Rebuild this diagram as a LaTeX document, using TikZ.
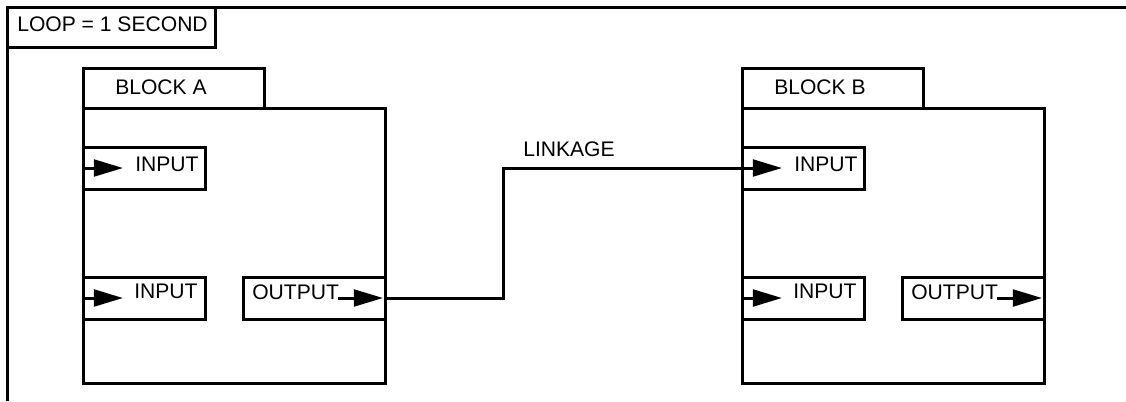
\documentclass[tikz,border=0pt]{standalone}
\usepackage{fontspec}
\setmainfont{Liberation Sans}
\usetikzlibrary{arrows.meta,calc}

\def\px{0.25mm}
\tikzset{
  frame/.style={draw, rectangle, line width=3*\px, inner sep=0pt, outer sep=0pt, anchor=north west},
  lbl/.style={inner sep=0pt, anchor=west, font=\fontsize{15}{18}\selectfont},
  flow/.style={line width=3*\px, -{Triangle[length=7.3mm,width=4.2mm]}},
}

\begin{document}
\begin{tikzpicture}[x=\px, y=-\px]
  \useasboundingbox (0,0) rectangle (1126,401);

  % -- loop frame, open to the right and bottom --
  \coordinate (loopR) at (1126,7);
  \coordinate (loopB) at (7,401);
  \draw[line width=3*\px] (loopB) |- (loopR);
  \node[frame, minimum width=208*\px, minimum height=40*\px] (loop) at (7,7) {};
  \node[lbl] (looptxt) at (17,24) {LOOP = 1 SECOND};

  % -- the two blocks, same layout shifted --
  \foreach \name/\dx in {A/0,B/659}{
    \begin{scope}[shift={(\dx,0)}]
      \node[frame, minimum width=302*\px, minimum height=275*\px] (main\name) at (83,108) {};
      \node[frame, minimum width=181*\px, minimum height=40*\px] (tab\name) at (83,68) {};
      \node[lbl] (tabtxt\name) at (115,87) {BLOCK \name};

      \node[frame, minimum width=122*\px, minimum height=42*\px] (inI\name) at (83,147) {};
      \node[lbl] (inItxt\name) at (135,164) {INPUT};

      \node[frame, minimum width=122*\px, minimum height=42*\px] (inII\name) at (83,277) {};
      \node[lbl] (inIItxt\name) at (134,291) {INPUT};
      \draw[flow] (inII\name.west) -- ++(40,0);

      \node[frame, minimum width=142*\px, minimum height=42*\px] (out\name) at (243,277) {};
      \node[lbl] (outtxt\name) at (252,292) {OUTPUT};
      \draw[flow] ($(out\name.west)+(95,0)$) -- ($(out\name.east)+(-2,0)$);
    \end{scope}
  }

  % -- input A fed from outside, input B fed by the linkage --
  \draw[flow] (inIA.west) -- ++(40,0);
  \draw[flow] (outA.east) -- ++(118,0) |- (inIB.west) -- ++(40,0);
  \node[lbl] (linktxt) at (523,149) {LINKAGE};

\end{tikzpicture}
\end{document}
